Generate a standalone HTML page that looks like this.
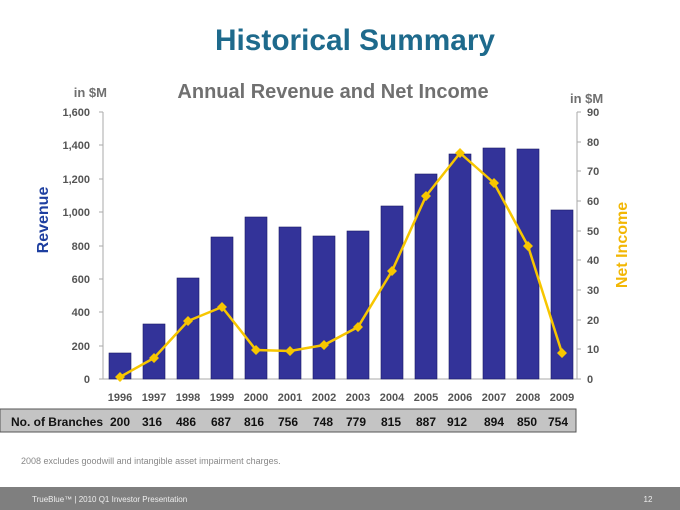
<!DOCTYPE html>
<html><head><style>
body{margin:0;width:680px;height:510px;background:#fff;position:relative;overflow:hidden;font-family:"Liberation Sans",sans-serif}
</style></head><body>
<svg width="680" height="510" style="position:absolute;left:0;top:0" font-family="Liberation Sans, sans-serif">
<text x="355" y="50" text-anchor="middle" font-size="30" font-weight="bold" fill="#1e6a8c" textLength="280" lengthAdjust="spacingAndGlyphs">Historical Summary</text>
<text x="333" y="98" text-anchor="middle" font-size="20" font-weight="bold" fill="#707070">Annual Revenue and Net Income</text>
<text x="107" y="97" text-anchor="end" font-size="13" font-weight="bold" fill="#707070">in $M</text>
<text x="570" y="103" font-size="13" font-weight="bold" fill="#707070">in $M</text>
<text transform="translate(48,220) rotate(-90)" text-anchor="middle" font-size="16" font-weight="bold" fill="#1e3fa0">Revenue</text>
<text transform="translate(627,245) rotate(-90)" text-anchor="middle" font-size="16" font-weight="bold" fill="#f2b705">Net Income</text>
<g stroke="#aaa" stroke-width="1">
<line x1="103" y1="112" x2="103" y2="379"/><line x1="577" y1="112" x2="577" y2="379"/>
<line x1="103" y1="379" x2="577" y2="379"/>
</g>
<g font-size="11" font-weight="bold" fill="#555" text-anchor="end">
<text x="90" y="383">0</text><text x="90" y="350">200</text><text x="90" y="316">400</text><text x="90" y="283">600</text><text x="90" y="250">800</text><text x="90" y="216">1,000</text><text x="90" y="183">1,200</text><text x="90" y="149">1,400</text><text x="90" y="116">1,600</text>
</g>
<g font-size="11" font-weight="bold" fill="#555">
<text x="587" y="383">0</text><text x="587" y="353">10</text><text x="587" y="324">20</text><text x="587" y="294">30</text><text x="587" y="264">40</text><text x="587" y="235">50</text><text x="587" y="205">60</text><text x="587" y="175">70</text><text x="587" y="146">80</text><text x="587" y="116">90</text>
</g>
<g stroke="#aaa"><path d="M99 379h4M99 346h4M99 312h4M99 279h4M99 246h4M99 212h4M99 179h4M99 145h4M99 112h4M577 379h4M577 349h4M577 320h4M577 290h4M577 260h4M577 231h4M577 201h4M577 171h4M577 142h4M577 112h4"/></g>
<g fill="#333399" stroke="#1a1a66" stroke-width="0.6">
<rect x="109" y="353" width="22" height="26"/><rect x="143" y="324" width="22" height="55"/><rect x="177" y="278" width="22" height="101"/><rect x="211" y="237" width="22" height="142"/><rect x="245" y="217" width="22" height="162"/><rect x="279" y="227" width="22" height="152"/><rect x="313" y="236" width="22" height="143"/><rect x="347" y="231" width="22" height="148"/><rect x="381" y="206" width="22" height="173"/><rect x="415" y="174" width="22" height="205"/><rect x="449" y="154" width="22" height="225"/><rect x="483" y="148" width="22" height="231"/><rect x="517" y="149" width="22" height="230"/><rect x="551" y="210" width="22" height="169"/>
</g>
<polyline fill="none" stroke="#f7c600" stroke-width="2.5" points="120,377 154,358 188,321 222,307 256,350 290,351 324,345 358,327 392,271 426,196 460,153 494,183 528,246 562,353"/>
<g fill="#f7c600">
<path d="M120 372l5 5-5 5-5-5zM154 353l5 5-5 5-5-5zM188 316l5 5-5 5-5-5zM222 302l5 5-5 5-5-5zM256 345l5 5-5 5-5-5zM290 346l5 5-5 5-5-5zM324 340l5 5-5 5-5-5zM358 322l5 5-5 5-5-5zM392 266l5 5-5 5-5-5zM426 191l5 5-5 5-5-5zM460 148l5 5-5 5-5-5zM494 178l5 5-5 5-5-5zM528 241l5 5-5 5-5-5zM562 348l5 5-5 5-5-5z"/>
</g>
<g font-size="11" font-weight="bold" fill="#555" text-anchor="middle">
<text x="120" y="401">1996</text><text x="154" y="401">1997</text><text x="188" y="401">1998</text><text x="222" y="401">1999</text><text x="256" y="401">2000</text><text x="290" y="401">2001</text><text x="324" y="401">2002</text><text x="358" y="401">2003</text><text x="392" y="401">2004</text><text x="426" y="401">2005</text><text x="460" y="401">2006</text><text x="494" y="401">2007</text><text x="528" y="401">2008</text><text x="562" y="401">2009</text>
</g>
<rect x="0" y="409" width="576" height="23" fill="#c4c4c4" stroke="#555" stroke-width="1"/>
<g font-size="12" font-weight="bold" fill="#111" text-anchor="middle">
<text x="57" y="426">No. of Branches</text>
<text x="120" y="426">200</text><text x="152" y="426">316</text><text x="186" y="426">486</text><text x="221" y="426">687</text><text x="254" y="426">816</text><text x="288" y="426">756</text><text x="323" y="426">748</text><text x="356" y="426">779</text><text x="391" y="426">815</text><text x="426" y="426">887</text><text x="457" y="426">912</text><text x="494" y="426">894</text><text x="527" y="426">850</text><text x="558" y="426">754</text>
</g>
<text x="21" y="464" font-size="9" fill="#888">2008 excludes goodwill and intangible asset impairment charges.</text>
<rect x="0" y="487" width="680" height="23" fill="#7f7f7f"/>
<text x="32" y="502" font-size="8" fill="#eee">TrueBlue™ | 2010 Q1 Investor Presentation</text>
<text x="648" y="502" font-size="8" fill="#eee" text-anchor="middle">12</text>
</svg>
</body></html>
